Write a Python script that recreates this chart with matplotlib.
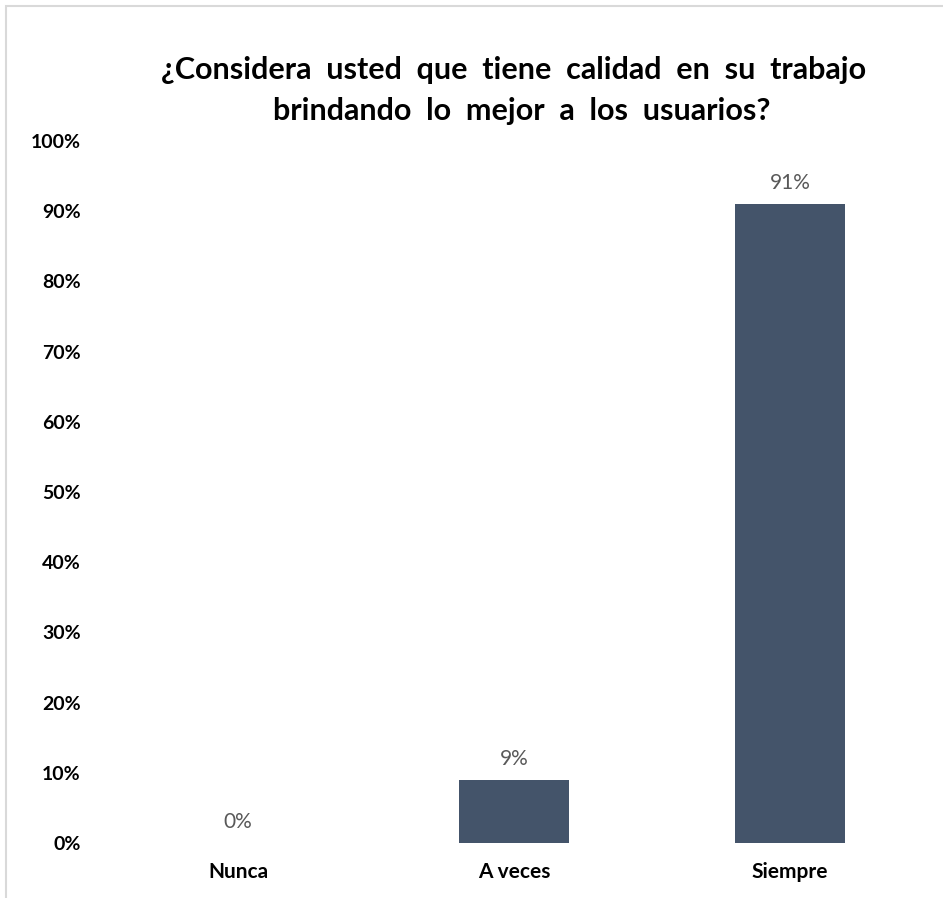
import matplotlib.pyplot as plt
from matplotlib.ticker import PercentFormatter
from matplotlib.patches import Rectangle

# Survey answers and their shares
categories = ['Nunca', 'A veces', 'Siempre']
values = [0.0, 0.09, 0.91]
value_labels = ['0%', '9%', '91%']
title_lines = ['¿Considera  usted  que  tiene  calidad  en  su  trabajo',
               'brindando  lo  mejor  a  los  usuarios?']

plt.rcParams['font.family'] = ['Lato', 'DejaVu Sans']

fig = plt.figure(figsize=(9.43, 8.98), dpi=100)
ax = fig.add_axes([100 / 943, 1 - 843 / 898, 828 / 943, 702 / 898])

bar_color = '#44546A'
bars = ax.bar(range(len(categories)), values, width=0.4, color=bar_color)

for bar, lab in zip(bars, value_labels):
    ax.annotate(lab, (bar.get_x() + bar.get_width() / 2, bar.get_height()),
                xytext=(0, 8), textcoords='offset points', ha='center', va='bottom',
                fontsize=15, color='#595959')

ax.set_xlim(-0.5, 2.5)
ax.set_ylim(0, 1.0)
ax.set_yticks([i / 10 for i in range(11)])
ax.yaxis.set_major_formatter(PercentFormatter(1.0, decimals=0))
ax.set_xticks(range(len(categories)))
ax.set_xticklabels(categories)

for lab in ax.get_xticklabels():
    lab.set_fontweight('bold')
    lab.set_fontsize(15)
for lab in ax.get_yticklabels():
    lab.set_fontweight('bold')
    lab.set_fontsize(14)

ax.tick_params(axis='both', length=0, colors='black')
ax.tick_params(axis='x', pad=14)
ax.tick_params(axis='y', pad=14)
for s in ax.spines.values():
    s.set_visible(False)

fig.text(514 / 943, 1 - 70 / 898, title_lines[0], ha='center', va='center',
         fontsize=22, fontweight='bold')
fig.text(522 / 943, 1 - 111 / 898, title_lines[1], ha='center', va='center',
         fontsize=22, fontweight='bold')

# light frame around the chart area
fig.patches.append(Rectangle((6 / 943, -0.05), 1.1, 1 - 6 / 898 + 0.05,
                             transform=fig.transFigure, fill=False,
                             edgecolor='#D9D9D9', linewidth=1.5))

fig.savefig('out.png', dpi=100)
